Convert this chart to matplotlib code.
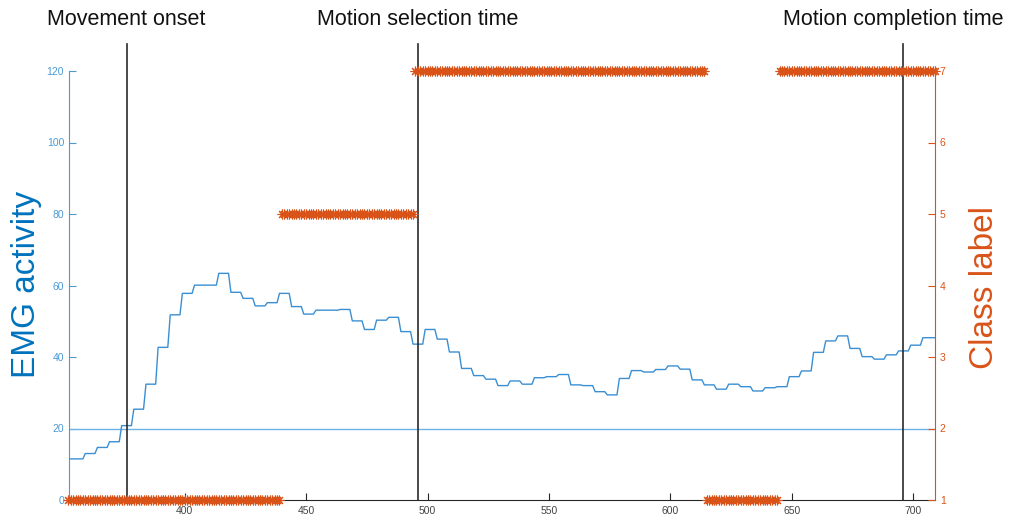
import numpy as np
import matplotlib
matplotlib.use("Agg")
import matplotlib.pyplot as plt

plt.rcParams['font.family'] = ['Liberation Sans', 'DejaVu Sans']

# ---- data ----
samples = np.arange(352, 710)
# EMG activity: window-averaged, constant over 5-sample windows
window_starts = [352, 359, 364, 369, 374, 379, 384, 389, 394, 399, 404, 409, 414, 419,
                 424, 429, 434, 439, 444, 449, 454, 459, 464, 469, 474, 479, 484, 489,
                 494, 499, 504, 509, 514, 519, 524, 529, 534, 539, 544, 549, 554, 559,
                 564, 569, 574, 579, 584, 589, 594, 599, 604, 609, 614, 619, 624, 629,
                 634, 639, 644, 649, 654, 659, 664, 669, 674, 679, 684, 689, 694, 699, 704]
emg_levels = [11.5, 13.0, 14.7, 16.3, 20.8, 25.4, 32.4, 42.7, 51.8, 57.8, 60.1, 60.1, 63.4, 58.1,
              56.4, 54.3, 55.2, 57.8, 54.1, 52.0, 53.1, 53.1, 53.3, 50.1, 47.7, 50.3, 51.1, 47.1,
              43.6, 47.7, 45.0, 41.4, 36.8, 34.8, 33.8, 32.0, 33.3, 32.4, 34.2, 34.5, 35.1, 32.2,
              32.0, 30.3, 29.4, 34.0, 36.2, 35.8, 36.5, 37.5, 36.6, 33.6, 32.2, 31.0, 32.4, 31.7,
              30.5, 31.4, 31.7, 34.5, 36.1, 41.3, 44.5, 45.9, 42.4, 40.1, 39.4, 40.6, 41.7, 43.3, 45.4]
threshold = 20

# Class label segments
class_starts = [352, 440, 495, 615, 645]
class_ends = [439, 494, 614, 644, 709]
class_values = [1, 5, 7, 1, 7]

# Event markers
event_x = [376, 496, 696]
event_names = ["Movement onset", "Motion selection time", "Motion completion time"]
event_label_x = [376, 496, 692]

# ---- styling ----
BLUE = '#0072BD'
BLUE_AX = '#4a9ad6'
BLUE_LINE = '#3a8fd3'
BLUE_THR = '#6db4e6'
ORANGE = '#D95319'

idx = np.searchsorted(window_starts, samples, side='right') - 1
emg = np.array(emg_levels)[idx]

fig = plt.figure(figsize=(10.16, 5.19), dpi=100)
ax = fig.add_axes([69/1016, 19/519, (935-69)/1016, (500-71)/519])
ax2 = ax.twinx()

ax.plot(samples, emg, color=BLUE_LINE, lw=1.0, zorder=3)
ax.axhline(threshold, color=BLUE_THR, lw=1.0, zorder=2)
ax.set_xlim(352.3, 709)
ax.set_ylim(0, 120)
ax.set_yticks(np.arange(0, 121, 20))
ax.set_xticks(np.arange(400, 701, 50))

for xe in event_x:
    ax.plot([xe, xe], [0, 127.5], color='#2a2a2a', lw=1.2, clip_on=False, zorder=4)
for xl, name in zip(event_label_x, event_names):
    ax.text(xl, 134.5, name, ha='center', va='center', fontsize=15.5, color='#111111',
            clip_on=False)

for s, e, v in zip(class_starts, class_ends, class_values):
    xs = np.arange(s, e + 1)
    ax2.plot(xs, np.full(len(xs), v), linestyle='none', marker=(8, 2, 0), markersize=7,
             markeredgewidth=0.8, color=ORANGE, clip_on=False, zorder=5)
ax2.set_ylim(1, 7)
ax2.set_yticks(np.arange(1, 8))
ax2.set_xlim(352.3, 709)

for a in (ax, ax2):
    a.spines['top'].set_visible(False)
ax.spines['right'].set_visible(False)
ax2.spines['left'].set_visible(False)
ax2.spines['bottom'].set_visible(False)
ax.spines['left'].set_color(BLUE_AX)
ax.spines['bottom'].set_color('#262626')
ax2.spines['right'].set_color(ORANGE)

ax.tick_params(axis='y', direction='in', colors=BLUE_AX, labelsize=7.5, length=5, width=0.8)
ax.tick_params(axis='x', direction='in', colors='#262626', labelcolor='#444444',
               labelsize=7.5, length=5, width=0.8, pad=4)
ax2.tick_params(axis='y', direction='in', colors=ORANGE, labelsize=7.5, length=5, width=0.8)

ax.set_ylabel('EMG activity', fontsize=24, color=BLUE, va='center')
ax.yaxis.set_label_coords(-0.0485, 0.503)
ax2.set_ylabel('Class label', fontsize=24, color=ORANGE, va='center')
ax2.yaxis.set_label_coords(1.0577, 0.495)
ax.patch.set_visible(False)

fig.savefig('out.png', dpi=100)
